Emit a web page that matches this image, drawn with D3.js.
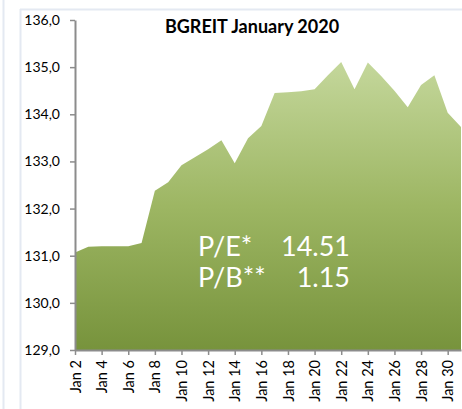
<!DOCTYPE html>
<html><head><meta charset="utf-8">
<script src="https://cdn.jsdelivr.net/npm/d3@7"></script>
<style>body{margin:0;background:#fff}svg{display:block}</style>
</head><body>
<svg id="c" width="462" height="409"></svg>
<script>
const days = d3.range(2, 32);
const values = [131.07,131.19,131.20,131.20,131.20,131.27,132.38,132.56,132.92,133.09,133.26,133.45,132.96,133.49,133.75,134.45,134.47,134.49,134.53,134.83,135.11,134.53,135.10,134.81,134.50,134.15,134.62,134.83,134.03,133.73];
const yTicks = [129,130,131,132,133,134,135,136];
const xTickDays = [2,4,6,8,10,12,14,16,18,20,22,24,26,28,30];
const title = "BGREIT January 2020";
const notes = [["P/E*","14.51"],["P/B**","1.15"]];

const svg = d3.select("#c");
const font = "Lato, 'Open Sans', sans-serif";
// frame lines
svg.append("line").attr("x1",3.5).attr("x2",3.5).attr("y1",0).attr("y2",409).attr("stroke","#e4e9f2").attr("stroke-width",2);
svg.append("line").attr("x1",20.5).attr("x2",20.5).attr("y1",9).attr("y2",409).attr("stroke","#e4e9f2").attr("stroke-width",2);
svg.append("line").attr("x1",20).attr("x2",462).attr("y1",9.5).attr("y2",9.5).attr("stroke","#e4e9f2").attr("stroke-width",2);

const x = d3.scaleLinear().domain([2,31]).range([75,461]);
const y = d3.scaleLinear().domain([129,136]).range([350,20]);

const defs = svg.append("defs");
const g = defs.append("linearGradient").attr("id","gr")
  .attr("gradientUnits","userSpaceOnUse").attr("x1",0).attr("x2",0).attr("y1",y(135.1)).attr("y2",350);
g.append("stop").attr("offset",0).attr("stop-color","#c4d79b");
g.append("stop").attr("offset",0.5).attr("stop-color","#9db663");
g.append("stop").attr("offset",1).attr("stop-color","#77933c");

const area = d3.area().x((d,i)=>x(days[i])).y0(350).y1(d=>y(d));
svg.append("path").datum(values).attr("d",area).attr("fill","url(#gr)");

const ya = svg.append("g").attr("transform","translate(75,0)")
  .call(d3.axisLeft(y).tickValues(yTicks).tickFormat(d=>d3.format(".1f")(d).replace(".",",")).tickSize(5).tickSizeOuter(0));
const xa = svg.append("g").attr("transform","translate(0,350)")
  .call(d3.axisBottom(x).tickValues(xTickDays).tickFormat(d=>"Jan "+d).tickSize(5).tickSizeOuter(0));
[ya,xa].forEach(a=>{
  a.select(".domain").attr("stroke","#8c8c8c").attr("stroke-width",2);
  a.selectAll(".tick line").attr("stroke","#8c8c8c").attr("stroke-width",1.5);
  a.selectAll("text").attr("fill","#000").attr("font-family",font).attr("font-size",14);
});
ya.selectAll("text").attr("x",-15);
xa.selectAll("text").attr("font-size",14.5).attr("transform","rotate(-90)").attr("text-anchor","end").attr("x",-10).attr("y",0).attr("dy","0.35em");

svg.append("text").attr("x",252).attr("y",33).attr("text-anchor","middle").attr("font-family",font)
  .attr("font-weight","bold").attr("font-size",18).attr("fill","#000").text(title);

notes.forEach((n,i)=>{
  const yy = 256 + i*31;
  svg.append("text").attr("x",198).attr("y",yy).attr("font-family",font).attr("font-size",27).attr("fill","#fff").text(n[0]);
  svg.append("text").attr("x",350).attr("y",yy).attr("text-anchor","end").attr("font-family",font).attr("font-size",27).attr("fill","#fff").text(n[1]);
});
</script>
</body></html>
